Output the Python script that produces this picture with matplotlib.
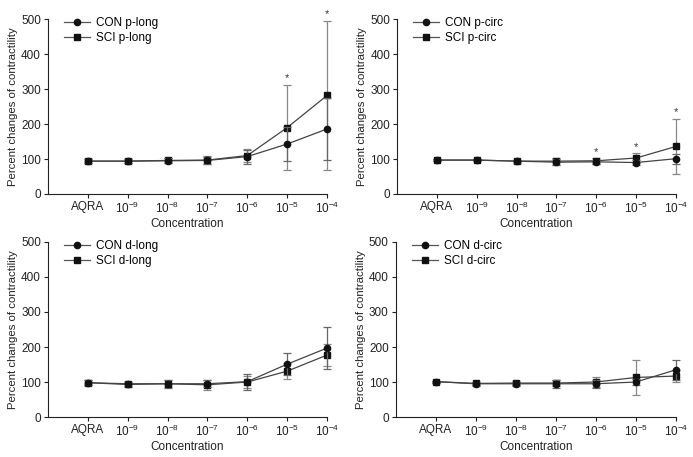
import matplotlib
matplotlib.use('Agg')
import matplotlib.pyplot as plt
from matplotlib.lines import Line2D
import numpy as np

plt.rcParams['font.family'] = ['Liberation Sans', 'DejaVu Sans']
plt.rcParams['mathtext.default'] = 'regular'

# Concentrations (x categories)
categories = ['AQRA', '$10^{-9}$', '$10^{-8}$', '$10^{-7}$', '$10^{-6}$', '$10^{-5}$', '$10^{-4}$']

# p-long
con_plong = [94, 94, 95, 96, 107, 143, 186]
con_plong_err = [6, 5, 7, 10, 20, 50, 88]
sci_plong = [94, 94, 96, 97, 110, 190, 282]
sci_plong_err = [6, 5, 6, 11, 18, 122, 213]
star_plong = [5, 6]

# p-circ
con_pcirc = [97, 97, 94, 91, 92, 90, 101]
con_pcirc_err = [4, 3, 4, 8, 6, 6, 14]
sci_pcirc = [97, 97, 94, 94, 95, 103, 136]
sci_pcirc_err = [4, 3, 3, 10, 8, 14, 79]
star_pcirc = [4, 5, 6]

# d-long
con_dlong = [98, 95, 95, 95, 101, 151, 197]
con_dlong_err = [7, 6, 11, 10, 23, 32, 60]
sci_dlong = [98, 93, 95, 92, 100, 131, 177]
sci_dlong_err = [7, 6, 10, 15, 18, 22, 32]
star_dlong = []

# d-circ
con_dcirc = [101, 95, 95, 95, 95, 100, 135]
con_dcirc_err = [3, 6, 6, 12, 12, 8, 28]
sci_dcirc = [101, 96, 97, 97, 100, 113, 117]
sci_dcirc_err = [3, 5, 6, 8, 14, 51, 18]
star_dcirc = []

panels = [
    ('p-long', con_plong, con_plong_err, sci_plong, sci_plong_err, star_plong, [0.069, 0.5755, 0.403, 0.3825]),
    ('p-circ', con_pcirc, con_pcirc_err, sci_pcirc, sci_pcirc_err, star_pcirc, [0.573, 0.5755, 0.4025, 0.3825]),
    ('d-long', con_dlong, con_dlong_err, sci_dlong, sci_dlong_err, star_dlong, [0.069, 0.0875, 0.403, 0.383]),
    ('d-circ', con_dcirc, con_dcirc_err, sci_dcirc, sci_dcirc_err, star_dcirc, [0.571, 0.0875, 0.4045, 0.383]),
]

fig = plt.figure(figsize=(6.93, 4.57), dpi=100)
x = np.arange(len(categories))

for name, con, con_err, sci, sci_err, stars, pos in panels:
    ax = fig.add_axes(pos)
    for vals, errs, mk, ec, z in [(sci, sci_err, 's', '#888888', 2), (con, con_err, 'o', '#666666', 3)]:
        cont = ax.errorbar(x, vals, yerr=errs, color='#444444', ecolor=ec, elinewidth=0.9,
                           capsize=3, capthick=0.9, marker=mk, markersize=4.5,
                           mfc='#111111', mec='#111111', linewidth=0.9, zorder=z)
        # keep the last point (on the axis edge) from being clipped
        cont.lines[0].set_clip_on(False)
        for art in cont.lines[1] + cont.lines[2]:
            art.set_clip_on(False)
    for i in stars:
        top = max(con[i] + con_err[i], sci[i] + sci_err[i])
        ax.text(x[i], top + 4, '*', ha='center', va='bottom', fontsize=8, color='#333333')

    ax.set_xlim(-1, 6)
    ax.set_ylim(0, 500)
    ax.set_yticks([0, 100, 200, 300, 400, 500])
    ax.set_xticks(x)
    ax.set_xticklabels(categories)
    ax.tick_params(labelsize=8.5, length=3, width=0.8, colors='#222222', pad=2)
    for side in ['top', 'right']:
        ax.spines[side].set_visible(False)
    for side in ['left', 'bottom']:
        ax.spines[side].set_linewidth(0.8)
        ax.spines[side].set_color('#222222')
    ax.set_xlabel('Concentration', fontsize=8.5, color='#222222', labelpad=1)
    ax.set_ylabel('Percent changes of contractility', fontsize=8.2, color='#222222', labelpad=2)

    handles = [
        Line2D([], [], color='#555555', lw=0.9, marker='o', markersize=4.5, mfc='#111111', mec='#111111'),
        Line2D([], [], color='#555555', lw=0.9, marker='s', markersize=4.5, mfc='#111111', mec='#111111'),
    ]
    ax.legend(handles, ['CON ' + name, 'SCI ' + name], loc='upper left', bbox_to_anchor=(0.04, 1.04),
              frameon=False, fontsize=8.5, handlelength=2.2, labelspacing=0.25,
              handletextpad=0.5, borderaxespad=0)

plt.savefig('out.png', dpi=100, facecolor='white')
plt.close()
